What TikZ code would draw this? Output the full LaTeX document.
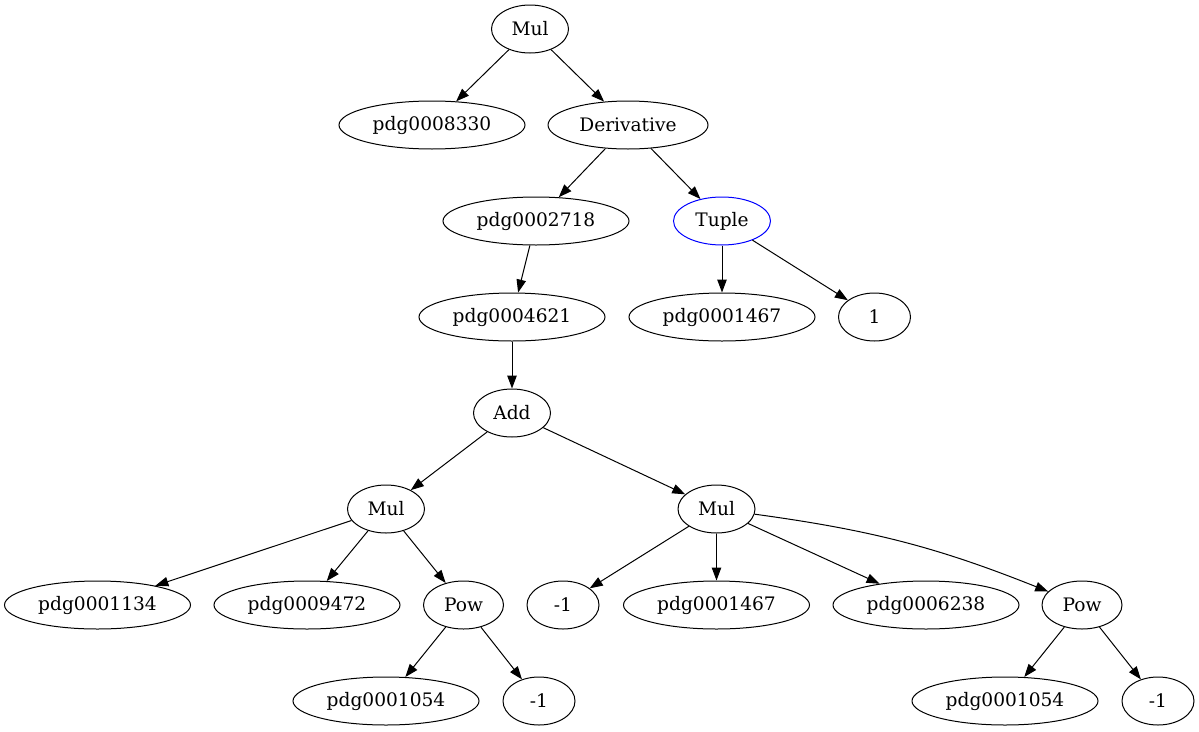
\documentclass[tikz,border=0pt]{standalone}
\usepackage{fontspec}
\setmainfont{DejaVu Serif}
\usetikzlibrary{shapes.geometric,arrows.meta}
\begin{document}
\begin{tikzpicture}[x=1pt,y=-1pt,
  every node/.style={ellipse,draw,line width=1pt,inner sep=0pt,minimum height=48pt,
    font=\fontsize{18.6}{20}\selectfont},
  nw/.style={minimum width=186pt},
  nm/.style={minimum width=78pt},
  ns/.style={minimum width=72pt},
  edge/.style={line width=1pt,-{Triangle[length=13pt,width=9.5pt]}}]
\useasboundingbox (0,0) rectangle (1199,731);
\node[nm,minimum width=77pt] (mul0) at (530,29) {Mul};
\node[nw] (p8330) at (432,125) {pdg0008330};
\node[nw,minimum width=160pt] (deriv) at (628,125) {Derivative};
\node[nw] (p2718) at (536,221) {pdg0002718};
\node[nm,minimum width=97pt,draw=blue] (tuple) at (722,221) {Tuple};
\node[nw] (p4621) at (512,317) {pdg0004621};
\node[nw] (p1467a) at (722,317) {pdg0001467};
\node[ns] (one) at (874.5,317) {1};
\node[nm,minimum width=77pt] (add) at (512,413) {Add};
\node[nm,minimum width=77pt] (mul1) at (386,509) {Mul};
\node[nm,minimum width=77pt] (mul2) at (716.5,509) {Mul};
\node[nw] (p1134) at (97.5,605) {pdg0001134};
\node[nw] (p9472) at (307,605) {pdg0009472};
\node[nm,minimum width=80pt] (pow1) at (463.5,605) {Pow};
\node[ns] (m1a) at (563,605) {-1};
\node[nw] (p1467b) at (716.5,605) {pdg0001467};
\node[nw] (p6238) at (926,605) {pdg0006238};
\node[nm,minimum width=80pt] (pow2) at (1082,605) {Pow};
\node[nw] (p1054a) at (386,701) {pdg0001054};
\node[ns] (m1b) at (539,701) {-1};
\node[nw] (p1054b) at (1005,701) {pdg0001054};
\node[ns] (m1c) at (1158,701) {-1};
\draw[edge] (mul0) -- (p8330);
\draw[edge] (mul0) -- (deriv);
\draw[edge] (deriv) -- (p2718);
\draw[edge] (deriv) -- (tuple);
\draw[edge] (p2718) -- (p4621);
\draw[edge] (tuple) -- (p1467a);
\draw[edge] (tuple) -- (one);
\draw[edge] (p4621) -- (add);
\draw[edge] (add) -- (mul1);
\draw[edge] (add) -- (mul2);
\draw[edge] (mul1) -- (p1134);
\draw[edge] (mul1) -- (p9472);
\draw[edge] (mul1) -- (pow1);
\draw[edge] (mul2) -- (m1a);
\draw[edge] (mul2) -- (p1467b);
\draw[edge] (mul2) -- (p6238);
\draw[edge] (mul2) to[bend left=7] (pow2);
\draw[edge] (pow1) -- (p1054a);
\draw[edge] (pow1) -- (m1b);
\draw[edge] (pow2) -- (p1054b);
\draw[edge] (pow2) -- (m1c);
\end{tikzpicture}
\end{document}
